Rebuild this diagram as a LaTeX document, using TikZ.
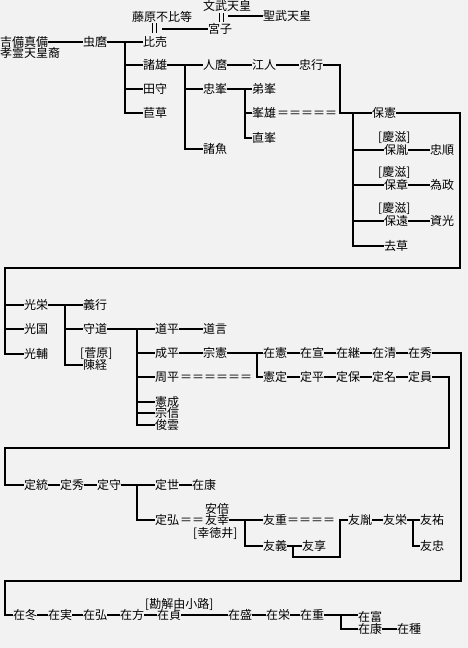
\documentclass[tikz,border=0pt]{standalone}
\usepackage{fontspec}
\setmainfont{Noto Sans CJK JP}
\definecolor{bg}{HTML}{F2F2F2}
\begin{document}
\begin{tikzpicture}[x=1pt,y=-1pt,
  nm/.style={inner sep=0pt, anchor=west, font=\fontsize{12}{12}\selectfont, text height=10.5pt, text depth=1.5pt},
  ln/.style={line width=1.8pt, line join=miter},
  dbl/.style={line width=0.9pt}]
\fill[bg] (0,0) rectangle (468,648);
\useasboundingbox (0,0) rectangle (468,648);
% ---------- section 1 ----------
\node[nm] (kibi) at (0,42) {吉備真備};
\node[nm] (kore) at (0,53) {孝霊天皇裔};
\node[nm] (mushi) at (83,42) {虫麿};
\node[nm] (fuhito) at (132,17) {藤原不比等};
\node[nm] (hime) at (143,42) {比売};
\node[nm] (mommu) at (203,6) {文武天皇};
\node[nm] (miya) at (208,29) {宮子};
\node[nm] (shomu) at (263,16) {聖武天皇};
\node[nm] (moroo) at (143,65) {諸雄};
\node[nm] (tamori) at (143,89) {田守};
\node[nm] (kusa1) at (143,113) {苣草};
\node[nm] (hitomaro) at (203,65) {人麿};
\node[nm] (tadamine) at (203,89) {忠峯};
\node[nm] (rouo) at (203,149) {諸魚};
\node[nm] (eto) at (252,65) {江人};
\node[nm] (tadayuki) at (299,65) {忠行};
\node[nm] (otomine) at (252,89) {弟峯};
\node[nm] (mineo) at (252,113) {峯雄};
\node[nm] (eqA) at (277,113) {＝＝＝＝＝};
\node[nm] (naomine) at (252,138) {直峯};
\node[nm] (yasunori) at (372,113) {保憲};
\node[nm] (kA) at (378,137) {[慶滋]};
\node[nm] (yasutane) at (384,150) {保胤};
\node[nm] (tadayori) at (430,150) {忠順};
\node[nm] (kB) at (378,172) {[慶滋]};
\node[nm] (yasuaki) at (384,185) {保章};
\node[nm] (tamemasa) at (430,185) {為政};
\node[nm] (kC) at (378,208) {[慶滋]};
\node[nm] (yasutoo) at (384,221) {保遠};
\node[nm] (sukemitsu) at (430,221) {資光};
\node[nm] (kusa2) at (384,246) {去草};

\coordinate (fm) at (162,29);
\coordinate (mm) at (228,16);
\coordinate (t1) at (125,42);
\coordinate (t2) at (185,65);
\coordinate (t3) at (245,89);
\coordinate (c1) at (340,65);
\coordinate (t4) at (353,113);
\coordinate (c2) at (460,268);
\coordinate (c3) at (5,268);

\draw[dbl] ([xshift=20pt]fuhito.south west) -- ++(0,10);
\draw[dbl] ([xshift=24pt]fuhito.south west) -- ++(0,10);
\draw[dbl] ([xshift=16pt,yshift=-1pt]mommu.south west) -- ++(0,9);
\draw[dbl] ([xshift=20pt,yshift=-1pt]mommu.south west) -- ++(0,9);
\draw[ln] (fm) -- (miya.west);
\draw[ln] (mm) -- (shomu.west);
\draw[ln] (kibi.east) -- (mushi.west);
\draw[ln] (mushi.east) -- (hime.west);
\draw[ln] (t1) |- (kusa1.west);
\draw[ln] (t1 |- moroo.west) -- (moroo.west);
\draw[ln] (t1 |- tamori.west) -- (tamori.west);
\draw[ln] (moroo.east) -- (hitomaro.west);
\draw[ln] (t2) |- (rouo.west);
\draw[ln] (t2 |- tadamine.west) -- (tadamine.west);
\draw[ln] (hitomaro.east) -- (eto.west);
\draw[ln] (eto.east) -- (tadayuki.west);
\draw[ln] (tadayuki.east) -- (c1) |- (yasunori.west);
\draw[ln] (tadamine.east) -- (otomine.west);
\draw[ln] (t3) |- (naomine.west);
\draw[ln] (t3 |- mineo.west) -- (mineo.west);
\draw[ln] (t4) |- (kusa2.west);
\draw[ln] (t4 |- yasutane.west) -- (yasutane.west);
\draw[ln] (t4 |- yasuaki.west) -- (yasuaki.west);
\draw[ln] (t4 |- yasutoo.west) -- (yasutoo.west);
\draw[ln] (yasutane.east) -- (tadayori.west);
\draw[ln] (yasuaki.east) -- (tamemasa.west);
\draw[ln] (yasutoo.east) -- (sukemitsu.west);

% ---------- section 2 ----------
\node[nm] (mitsuyoshi) at (24,305) {光栄};
\node[nm] (mitsukuni) at (24,329) {光国};
\node[nm] (mitsusuke) at (24,354) {光輔};
\node[nm] (yoshiyuki) at (83,305) {義行};
\node[nm] (morimichi) at (83,329) {守道};
\node[nm] (sugawara) at (80,353) {[菅原]};
\node[nm] (nobutsune) at (83,365) {陳経};
\node[nm] (michihira) at (155,329) {道平};
\node[nm] (michitoki) at (203,329) {道言};
\node[nm] (narihira) at (155,353) {成平};
\node[nm] (munenori) at (203,353) {宗憲};
\node[nm] (kanehira) at (155,377) {周平};
\node[nm] (eqB) at (180,377) {＝＝＝＝＝＝};
\node[nm] (norinari) at (155,402) {憲成};
\node[nm] (munenobu) at (155,413) {宗信};
\node[nm] (shunun) at (155,425) {俊雲};
\node[nm] (arinori) at (263,353) {在憲};
\node[nm] (arinobu) at (300,353) {在宣};
\node[nm] (aritsugu) at (336,353) {在継};
\node[nm] (arikiyo) at (372,353) {在清};
\node[nm] (arihide) at (408,353) {在秀};
\node[nm] (norisada) at (263,377) {憲定};
\node[nm] (sadahira) at (300,377) {定平};
\node[nm] (sadayasu) at (336,377) {定保};
\node[nm] (sadana) at (372,377) {定名};
\node[nm] (sadakazu) at (408,377) {定員};

\coordinate (t5) at (65,305);
\coordinate (t6) at (137,329);
\coordinate (t7) at (257,353);
\coordinate (c4) at (461,581);
\coordinate (c5) at (5,581);
\coordinate (c6) at (449,448);
\coordinate (c7) at (5,448);

\draw[ln] (yasunori.east) -| (c2) -- (c3) |- (mitsusuke.west);
\draw[ln] (c3 |- mitsuyoshi.west) -- (mitsuyoshi.west);
\draw[ln] (c3 |- mitsukuni.west) -- (mitsukuni.west);
\draw[ln] (mitsuyoshi.east) -- (yoshiyuki.west);
\draw[ln] (t5) |- (nobutsune.west);
\draw[ln] (t5 |- morimichi.west) -- (morimichi.west);
\draw[ln] (morimichi.east) -- (michihira.west);
\draw[ln] (t6) |- (shunun.west);
\draw[ln] (t6 |- narihira.west) -- (narihira.west);
\draw[ln] (t6 |- kanehira.west) -- (kanehira.west);
\draw[ln] (t6 |- norinari.west) -- (norinari.west);
\draw[ln] (t6 |- munenobu.west) -- (munenobu.west);
\draw[ln] (michihira.east) -- (michitoki.west);
\draw[ln] (narihira.east) -- (munenori.west);
\draw[ln] (munenori.east) -- (arinori.west);
\draw[ln] (t7) |- (norisada.west);
\draw[ln] (arinori.east) -- (arinobu.west);
\draw[ln] (arinobu.east) -- (aritsugu.west);
\draw[ln] (aritsugu.east) -- (arikiyo.west);
\draw[ln] (arikiyo.east) -- (arihide.west);
\draw[ln] (norisada.east) -- (sadahira.west);
\draw[ln] (sadahira.east) -- (sadayasu.west);
\draw[ln] (sadayasu.east) -- (sadana.west);
\draw[ln] (sadana.east) -- (sadakazu.west);

% ---------- section 3 ----------
\node[nm] (sadamune) at (24,485) {定統};
\node[nm] (sadahide) at (60,485) {定秀};
\node[nm] (sadamori) at (97,485) {定守};
\node[nm] (sadayo) at (155,485) {定世};
\node[nm] (ariyasuA) at (192,485) {在康};
\node[nm] (sadahiro) at (155,520) {定弘};
\node[nm] (eqC) at (180,520) {＝＝};
\node[nm] (tomoyuki) at (205,520) {友幸};
\node[nm] (abe) at (205,509) {安倍};
\node[nm] (kotokui) at (193,533) {[幸徳井]};
\node[nm] (tomoshige) at (263,520) {友重};
\node[nm] (eqD) at (287,520) {＝＝＝＝};
\node[nm] (tomoyoshi) at (263,546) {友義};
\node[nm] (tomoyukiB) at (302,546) {友享};
\node[nm] (tomotane) at (348,520) {友胤};
\node[nm] (tomohide) at (383,520) {友栄};
\node[nm] (tomosuke) at (420,520) {友祐};
\node[nm] (tomotada) at (420,546) {友忠};

\coordinate (t8) at (137,485);
\coordinate (t9) at (245,520);
\coordinate (c8) at (293,546);
\coordinate (c9) at (340,557);
\coordinate (t10) at (413,520);

\draw[ln] (sadakazu.east) -| (c6) -- (c7) |- (sadamune.west);
\draw[ln] (sadamune.east) -- (sadahide.west);
\draw[ln] (sadahide.east) -- (sadamori.west);
\draw[ln] (sadamori.east) -- (sadayo.west);
\draw[ln] (t8) |- (sadahiro.west);
\draw[ln] (sadayo.east) -- (ariyasuA.west);
\draw[ln] (tomoyuki.east) -- (tomoshige.west);
\draw[ln] (t9) |- (tomoyoshi.west);
\draw[ln] (tomoyoshi.east) -- (tomoyukiB.west);
\draw[ln] (c8) |- (c9) |- (tomotane.west);
\draw[ln] (tomotane.east) -- (tomohide.west);
\draw[ln] (tomohide.east) -- (tomosuke.west);
\draw[ln] (t10) |- (tomotada.west);

% ---------- section 4 ----------
\node[nm] (arifuyu) at (13,615) {在冬};
\node[nm] (arizane) at (48,615) {在実};
\node[nm] (arihiro) at (83,615) {在弘};
\node[nm] (arikata) at (120,615) {在方};
\node[nm] (arisada) at (157,615) {在貞};
\node[nm] (kadenokoji) at (145,604) {[勘解由小路]};
\node[nm] (arimori) at (228,615) {在盛};
\node[nm] (arihideB) at (266,615) {在栄};
\node[nm] (arishige) at (300,615) {在重};
\node[nm] (aritomi) at (358,617) {在富};
\node[nm] (ariyasuB) at (358,629) {在康};
\node[nm] (aritane) at (397,629) {在種};

\coordinate (t11) at (341,615);

\draw[ln] (arihide.east) -| (c4) -- (c5) |- (arifuyu.west);
\draw[ln] (arifuyu.east) -- (arizane.west);
\draw[ln] (arizane.east) -- (arihiro.west);
\draw[ln] (arihiro.east) -- (arikata.west);
\draw[ln] (arikata.east) -- (arisada.west);
\draw[ln] (arisada.east) -- (arimori.west);
\draw[ln] (arimori.east) -- (arihideB.west);
\draw[ln] (arihideB.east) -- (arishige.west);
\draw[ln] (arishige.east) -- (arishige.east -| aritomi.west);
\draw[ln] (t11) |- (ariyasuB.west);
\draw[ln] (ariyasuB.east) -- (aritane.west);
\end{tikzpicture}
\end{document}
